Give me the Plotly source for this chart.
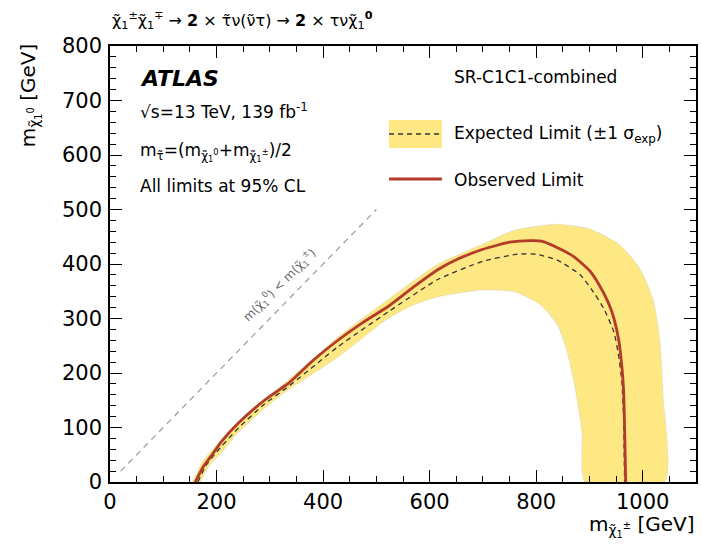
import plotly.graph_objects as go

# ---- data (GeV) ----
obs_x = [160, 175, 190, 210, 242, 290, 336, 380, 429, 475, 522, 570, 616, 653, 700, 750, 790, 810, 840, 870, 900, 915, 935, 946, 955, 961, 964, 966, 968]
obs_y = [0, 28, 48, 75, 109, 150, 182, 222, 261, 293, 322, 358, 390, 409, 427, 440, 443, 442, 430, 414, 388, 367, 330, 300, 260, 210, 170, 100, 0]

exp_x = [165, 180, 200, 242, 290, 336, 429, 522, 616, 700, 765, 800, 840, 883, 910, 927, 946, 955, 961, 964, 966]
exp_y = [0, 30, 55, 100, 143, 176, 249, 312, 372, 405, 418, 418, 407, 380, 345, 318, 275, 230, 183, 120, 0]

band_up_x = [155, 172, 200, 242, 290, 336, 429, 522, 616, 696, 759, 840, 901, 957, 995, 1020, 1032, 1038, 1041]
band_up_y = [0, 35, 68, 112, 153, 188, 267, 335, 400, 435, 462, 473, 464, 435, 391, 333, 262, 160, 0]
band_dn_x = [170, 185, 210, 242, 290, 336, 429, 522, 570, 616, 696, 759, 808, 840, 858, 871, 886, 892]
band_dn_y = [0, 28, 55, 92, 135, 170, 230, 300, 325, 340, 352, 349, 325, 288, 239, 183, 92, 0]

diag_x = [20, 500]
diag_y = [20, 500]

x_ticks = [0, 200, 400, 600, 800, 1000]
y_ticks = [0, 100, 200, 300, 400, 500, 600, 700, 800]

YELLOW = "#fde883"
RED = "#b23b2a"
FONT = "DejaVu Sans, Liberation Sans, Arial, sans-serif"
CHI = "χ\u0303"

fig = go.Figure()

fig.add_trace(go.Scatter(
    x=band_up_x + band_dn_x[::-1], y=band_up_y + band_dn_y[::-1],
    fill="toself", fillcolor=YELLOW, mode="lines",
    line=dict(color="rgba(200,200,200,0.6)", width=0.6, shape="spline", smoothing=0.6),
    hoverinfo="skip", showlegend=False))

fig.add_trace(go.Scatter(x=diag_x, y=diag_y, mode="lines",
                         line=dict(color="#9a9a9a", width=1.2, dash="6px,5px"), showlegend=False))

fig.add_trace(go.Scatter(x=exp_x, y=exp_y, mode="lines",
                         line=dict(color="#333333", width=1.3, dash="5px,4px", shape="spline", smoothing=0.5),
                         showlegend=False))

fig.add_trace(go.Scatter(x=obs_x, y=obs_y, mode="lines",
                         line=dict(color=RED, width=2.8, shape="spline", smoothing=0.5), showlegend=False))

def px2paper(px, py):
    return (px - 110) / 588, (482 - py) / 436

shapes = []
x0, y0 = px2paper(390, 148)
x1, y1 = px2paper(443, 120)
shapes.append(dict(type="rect", xref="paper", yref="paper", x0=x0, x1=x1, y0=y0, y1=y1,
                   fillcolor=YELLOW, line=dict(width=0)))
_, ym = px2paper(0, 134)
shapes.append(dict(type="line", xref="paper", yref="paper", x0=x0, x1=x1, y0=ym, y1=ym,
                   line=dict(color="#333333", width=1.3, dash="5px,4px")))
_, yr = px2paper(0, 179)
shapes.append(dict(type="line", xref="paper", yref="paper", x0=x0, x1=x1, y0=yr, y1=yr,
                   line=dict(color=RED, width=2.8)))

ann = []
def add_text(px, py, text, size, xanchor="left", yanchor="middle", color="black", angle=0):
    x, y = px2paper(px, py)
    ann.append(dict(xref="paper", yref="paper", x=x, y=y, text=text, showarrow=False,
                    xanchor=xanchor, yanchor=yanchor, textangle=angle,
                    font=dict(family=FONT, size=size, color=color)))

add_text(453, 134, "Expected Limit (±1 σ<sub>exp</sub>)", 17)
add_text(453, 180, "Observed Limit", 17)
add_text(537, 77, "SR-C1C1-combined", 17, xanchor="center")
add_text(138, 78, "<b><i>ATLAS</i></b>", 22)
add_text(138, 111, "√s=13 TeV, 139 fb<sup>-1</sup>", 17)
add_text(138, 152, f"m<sub>τ\u0303</sub>=(m<sub>{CHI}<sub>1</sub><sup>0</sup></sub>+m<sub>{CHI}<sub>1</sub><sup>±</sup></sub>)/2", 17)
add_text(138, 186, "All limits at 95% CL", 17)
add_text(110, 21, f"{CHI}<sub>1</sub><sup>±</sup>{CHI}<sub>1</sub><sup>∓</sup> → <b>2</b> × τ\u0303ν(ν\u0303τ) → <b>2</b> × τν{CHI}<sub>1</sub><sup><b>0</b></sup>", 16)
add_text(698, 526, f"m<sub>{CHI}<sub>1</sub><sup>±</sup></sub> [GeV]", 20, xanchor="right")
add_text(30, 95, f"m<sub>{CHI}<sub>1</sub><sup>0</sup></sub> [GeV]", 20, xanchor="center", angle=-90)

ann.append(dict(xref="x", yref="y", x=318, y=362, showarrow=False, textangle=-45,
                text=f"m({CHI}<sub>1</sub><sup>0</sup>) < m({CHI}<sub>1</sub><sup>±</sup>)",
                font=dict(family=FONT, size=12, color="#6a6a6a")))

fig.update_layout(
    width=702, height=545,
    margin=dict(l=110, r=4, t=46, b=63),
    paper_bgcolor="white", plot_bgcolor="white",
    font=dict(family=FONT, size=21, color="black"),
    shapes=shapes, annotations=ann, showlegend=False,
)
fig.update_xaxes(range=[0, 1100], tickvals=x_ticks, ticks="inside", ticklen=12, tickwidth=1.2,
                 tickcolor="black", showline=True, linecolor="black", linewidth=1.5, mirror="allticks",
                 showgrid=False, zeroline=False, tickfont=dict(size=21),
                 minor=dict(dtick=50, ticks="inside", ticklen=6, tickcolor="black", showgrid=False))
fig.update_yaxes(range=[0, 800], tickvals=y_ticks, ticks="inside", ticklen=12, tickwidth=1.2,
                 tickcolor="black", showline=True, linecolor="black", linewidth=1.5, mirror="allticks",
                 showgrid=False, zeroline=False, tickfont=dict(size=21), ticklabelstandoff=2,
                 minor=dict(dtick=20, ticks="inside", ticklen=6, tickcolor="black", showgrid=False))

fig.write_html("out.html")
